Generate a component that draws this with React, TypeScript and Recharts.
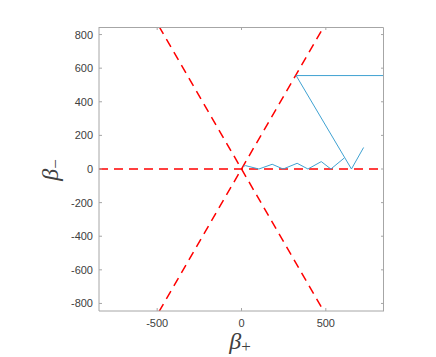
import { LineChart, Line, XAxis, YAxis } from 'recharts';

// axis limits and ticks
const LIMIT = [-845, 845];
const X_TICKS = [-500, 0, 500];
const Y_TICKS = [-800, -600, -400, -200, 0, 200, 400, 600, 800];

// billiard walls (red dashed)
const wallFlat = [{ x: -845, y: 0 }, { x: 845, y: 0 }];
const wallRise = [{ x: -490, y: -850 }, { x: 490, y: 850 }];
const wallFall = [{ x: -490, y: 850 }, { x: 490, y: -850 }];

// trajectory (blue)
const bounceLong = [
  { x: 850, y: 556 },
  { x: 324, y: 556 },
  { x: 652, y: 0 },
  { x: 724, y: 128 },
];
const bounceShort = [
  { x: 12, y: 16 },
  { x: 24, y: 20 },
  { x: 103, y: 0 },
  { x: 182, y: 28 },
  { x: 247, y: 0 },
  { x: 330, y: 34 },
  { x: 394, y: 0 },
  { x: 473, y: 44 },
  { x: 530, y: 0 },
  { x: 609, y: 65 },
];

const TOP = 27;
const BOTTOM = 311;
const LEFT = 99;
const RIGHT = 384;
const AXIS = '#a6a6a6';
const TEXT = '#404040';
const RED = '#ff0000';
const BLUE = '#3fa2d2';

function XTick({ x, index, payload }: { x: number; index: number; payload: { value: number } }) {
  return (
    <g>
      {index === 0 && (
        // top and right edges of the axes box
        <polyline points={`${LEFT},${TOP + 0.5} ${RIGHT - 0.5},${TOP + 0.5} ${RIGHT - 0.5},${BOTTOM}`} fill="none" stroke={AXIS} strokeWidth={1} />
      )}
      <line x1={x} x2={x} y1={BOTTOM} y2={BOTTOM - 3} stroke={AXIS} />
      <line x1={x} x2={x} y1={TOP} y2={TOP + 3} stroke={AXIS} />
      <text x={x} y={BOTTOM + 16} textAnchor="middle" fontSize={11} fill={TEXT} fontFamily="Liberation Sans, Arial, sans-serif">
        {payload.value}
      </text>
    </g>
  );
}

function YTick({ y, payload }: { y: number; payload: { value: number } }) {
  return (
    <g>
      <line x1={LEFT} x2={LEFT + 3} y1={y} y2={y} stroke={AXIS} />
      <line x1={RIGHT} x2={RIGHT - 3} y1={y} y2={y} stroke={AXIS} />
      <text x={LEFT - 6} y={y + 4} textAnchor="end" fontSize={11} fill={TEXT} fontFamily="Liberation Sans, Arial, sans-serif">
        {payload.value}
      </text>
    </g>
  );
}

function BetaLabel({ x, y, sub, angle = 0 }: { x: number; y: number; sub: string; angle?: number }) {
  return (
    <text x={x} y={y} textAnchor="middle" fill={TEXT} fontFamily="Liberation Serif, Times New Roman, serif" transform={`rotate(${angle}, ${x}, ${y})`}>
      <tspan fontSize={24} fontStyle="italic">β</tspan>
      <tspan fontSize={17} dy={3}>{sub}</tspan>
    </text>
  );
}

export default function App() {
  return (
    <div style={{ position: 'absolute', left: 0, top: 0, width: 436, height: 357, background: '#fff' }}>
      <LineChart width={436} height={357} margin={{ top: TOP, right: 436 - RIGHT, bottom: 16, left: 59 }}>
        <XAxis
          type="number"
          dataKey="x"
          domain={LIMIT}
          ticks={X_TICKS}
          allowDataOverflow
          height={30}
          stroke={AXIS}
          tickLine={false}
          tick={XTick as any}
          label={{ content: () => <BetaLabel x={240} y={349} sub="+" /> }}
        />
        <YAxis
          type="number"
          dataKey="y"
          domain={LIMIT}
          ticks={Y_TICKS}
          allowDataOverflow
          width={40}
          stroke={AXIS}
          tickLine={false}
          tick={YTick as any}
          label={{ content: () => <BetaLabel x={58} y={170} sub="−" angle={-90} /> }}
        />
        <Line data={wallFlat} dataKey="y" stroke={RED} strokeWidth={1.5} strokeDasharray="9 6" dot={false} isAnimationActive={false} />
        <Line data={wallRise} dataKey="y" stroke={RED} strokeWidth={1.5} strokeDasharray="9 6" dot={false} isAnimationActive={false} />
        <Line data={wallFall} dataKey="y" stroke={RED} strokeWidth={1.5} strokeDasharray="9 6" dot={false} isAnimationActive={false} />
        <Line data={bounceLong} dataKey="y" stroke={BLUE} strokeWidth={1} dot={false} isAnimationActive={false} />
        <Line data={bounceShort} dataKey="y" stroke={BLUE} strokeWidth={1} dot={false} isAnimationActive={false} />
      </LineChart>
    </div>
  );
}
